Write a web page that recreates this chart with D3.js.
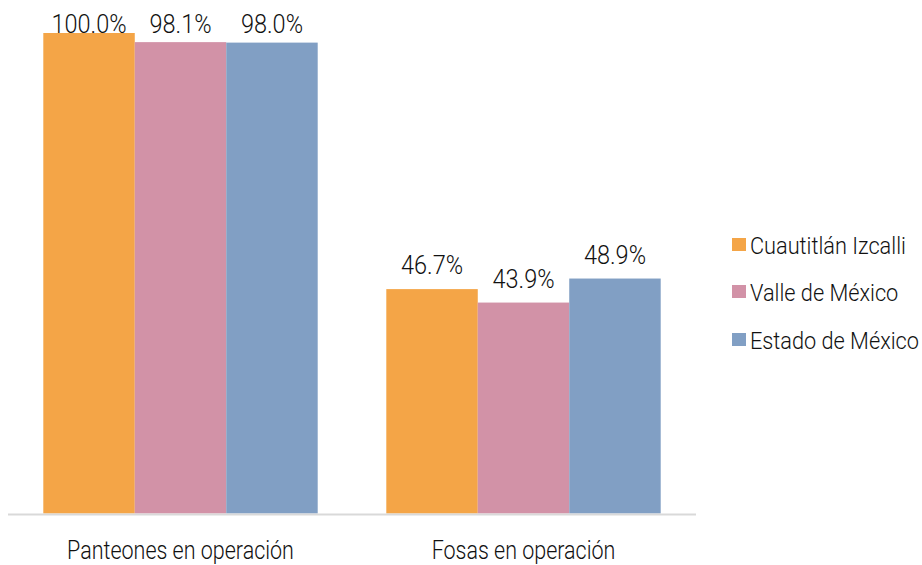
<!DOCTYPE html>
<html>
<head>
<meta charset="utf-8">
<script src="https://cdn.jsdelivr.net/npm/d3@7/dist/d3.min.js"></script>
<style>
  html, body { margin: 0; padding: 0; background: #fff; }
  svg text { font-family: Roboto, "Liberation Sans", Arial, sans-serif; font-weight: 300; fill: #111; }
</style>
</head>
<body>
<svg id="chart" width="922" height="565"></svg>
<script>
// Categories, series and values (percent)
const categories = ["Panteones en operación", "Fosas en operación"];
const seriesNames = ["Cuautitlán Izcalli", "Valle de México", "Estado de México"];
const cuautitlan = [100.0, 46.7];
const valle = [98.1, 43.9];
const estado = [98.0, 48.9];
const seriesColors = ["#F4A547", "#D292A7", "#819FC4"];

const seriesValues = [cuautitlan, valle, estado];

const svg = d3.select("#chart");
const baseY = 513.5, topY = 33;
const x0 = d3.scaleBand().domain(categories).range([9, 695]).paddingInner(0.2).paddingOuter(0.1);
const x1 = d3.scaleBand().domain(seriesNames).range([0, x0.bandwidth()]);
const y = d3.scaleLinear().domain([0, 100]).range([baseY, topY]);

// condensed text: horizontally squeezed sans
function ctext(sel, x, yy, size, sx, anchor, str) {
  return sel.append("text")
    .attr("transform", `translate(${x},${yy}) scale(${sx},1)`)
    .attr("text-anchor", anchor)
    .attr("font-size", size)
    .text(str);
}

const rows = [];
categories.forEach((c, ci) => {
  seriesNames.forEach((s, si) => rows.push({ cat: c, series: s, si, value: seriesValues[si][ci] }));
});

const g = svg.append("g");
g.selectAll("rect.bar").data(rows).join("rect")
  .attr("class", "bar")
  .attr("x", d => x0(d.cat) + x1(d.series))
  .attr("y", d => y(d.value))
  .attr("width", x1.bandwidth())
  .attr("height", d => baseY - y(d.value))
  .attr("fill", d => seriesColors[d.si]);

// value labels
rows.forEach(d => {
  ctext(g, x0(d.cat) + x1(d.series) + x1.bandwidth() / 2,
        Math.max(y(d.value) - 15, 33), 25, 0.94, "middle",
        d.value.toFixed(1) + "%");
});

// baseline axis
svg.append("line")
  .attr("x1", 8).attr("x2", 696)
  .attr("y1", baseY + 1).attr("y2", baseY + 1)
  .attr("stroke", "#d9d9d9").attr("stroke-width", 2);

const xAxis = d3.axisBottom(x0).tickSize(0).tickPadding(0).tickFormat(() => "");
const ax = svg.append("g").attr("transform", `translate(0,${baseY})`).call(xAxis);
ax.select(".domain").remove();
ax.selectAll(".tick").each(function (d) {
  ctext(d3.select(this), 0, 45.5, 25, 0.86, "middle", d);
});

// legend
const legend = svg.append("g").attr("transform", "translate(732,0)");
const ly = [238, 285, 333];
seriesNames.forEach((s, i) => {
  const item = legend.append("g").attr("transform", `translate(0,${ly[i]})`);
  item.append("rect").attr("x", 0).attr("y", 0).attr("width", 14).attr("height", 13).attr("fill", seriesColors[i]);
  ctext(item, 18, 16, 23, 0.945, "start", s);
});
</script>
</body>
</html>
